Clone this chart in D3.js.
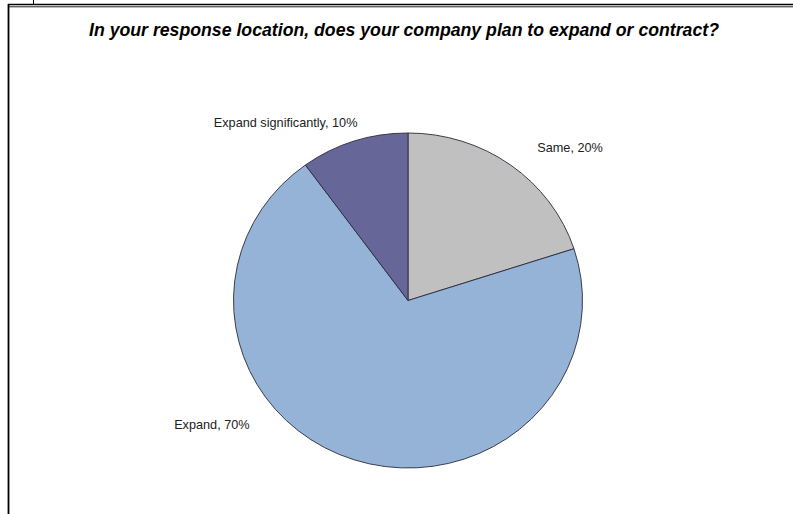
<!DOCTYPE html>
<html>
<head>
<meta charset="utf-8">
<script src="https://cdn.jsdelivr.net/npm/d3@7"></script>
<style>
  html, body { margin: 0; padding: 0; background: #ffffff; }
  svg { display: block; }
</style>
</head>
<body>
<svg id="chart" width="793" height="514"></svg>
<script>
// Survey answers, in clockwise order starting at 12 o'clock
const categories = ["Same", "Expand", "Expand significantly"];
const shares = [20, 70, 10];
const sliceColors = ["#c0c0c0", "#95b3d7", "#666699"];
const chartTitle = "In your response location, does your company plan to expand or contract?";

const svg = d3.select("#chart");
const W = 793, H = 514;
const cx = 408, cy = 300.5, radius = 174.5;
const yStretch = 335 / 349; // the pie is drawn slightly flattened

svg.append("rect").attr("x", 0).attr("y", 0).attr("width", W).attr("height", H).attr("fill", "#fff");

// frame of the chart area
svg.append("line").attr("x1", 33.5).attr("x2", 33.5).attr("y1", 0).attr("y2", 4)
  .attr("stroke", "#000").attr("stroke-width", 1);
svg.append("line").attr("x1", 8).attr("x2", W).attr("y1", 4.5).attr("y2", 4.5)
  .attr("stroke", "#000").attr("stroke-width", 1.6);
svg.append("line").attr("x1", 9).attr("x2", W).attr("y1", 6.8).attr("y2", 6.8)
  .attr("stroke", "#222").attr("stroke-width", 1);
svg.append("line").attr("x1", 8.5).attr("x2", 8.5).attr("y1", 4).attr("y2", H)
  .attr("stroke", "#000").attr("stroke-width", 1.8);

// title
svg.append("text")
  .attr("x", 404).attr("y", 36)
  .attr("text-anchor", "middle")
  .attr("font-family", "'Liberation Sans', Arial, sans-serif")
  .attr("font-size", 17.5)
  .attr("font-weight", "bold")
  .attr("font-style", "italic")
  .attr("fill", "#000")
  .attr("textLength", 630)
  .attr("lengthAdjust", "spacingAndGlyphs")
  .text(chartTitle);

const data = categories.map((c, i) => ({ name: c, value: shares[i], color: sliceColors[i] }));

const pie = d3.pie().value(d => d.value).sort(null);
const arc = d3.arc().innerRadius(0).outerRadius(radius);
const arcs = pie(data);

const g = svg.append("g").attr("transform", `translate(${cx},${cy}) scale(1,${yStretch})`);

g.selectAll("path.slice")
  .data(arcs)
  .join("path")
  .attr("class", "slice")
  .attr("d", arc)
  .attr("fill", d => d.data.color)
  .attr("stroke", "#2b2b3a")
  .attr("stroke-width", 0.9)
  .attr("vector-effect", "non-scaling-stroke")
  .attr("stroke-linejoin", "round");

// data labels sit outside each slice; offsets from the slice's outer mid-point
const labelShift = {
  "Same": { dx: 22, dy: 0, anchor: "start" },
  "Expand": { dx: -102, dy: -44.6, anchor: "end" },
  "Expand significantly": { dx: -66, dy: 0.6, anchor: "middle" }
};
const labelArc = d3.arc().innerRadius(radius + 8).outerRadius(radius + 8);
const lg = svg.append("g").attr("transform", `translate(${cx},${cy - 0.5})`);

lg.selectAll("text.label")
  .data(arcs)
  .join("text")
  .attr("class", "label")
  .attr("font-family", "'Liberation Sans', Arial, sans-serif")
  .attr("font-size", 12.7)
  .attr("fill", "#222")
  .attr("text-anchor", d => labelShift[d.data.name].anchor)
  .attr("x", d => labelArc.centroid(d)[0] + labelShift[d.data.name].dx)
  .attr("y", d => labelArc.centroid(d)[1] + labelShift[d.data.name].dy)
  .text(d => `${d.data.name}, ${d.data.value}%`);
</script>
</body>
</html>
